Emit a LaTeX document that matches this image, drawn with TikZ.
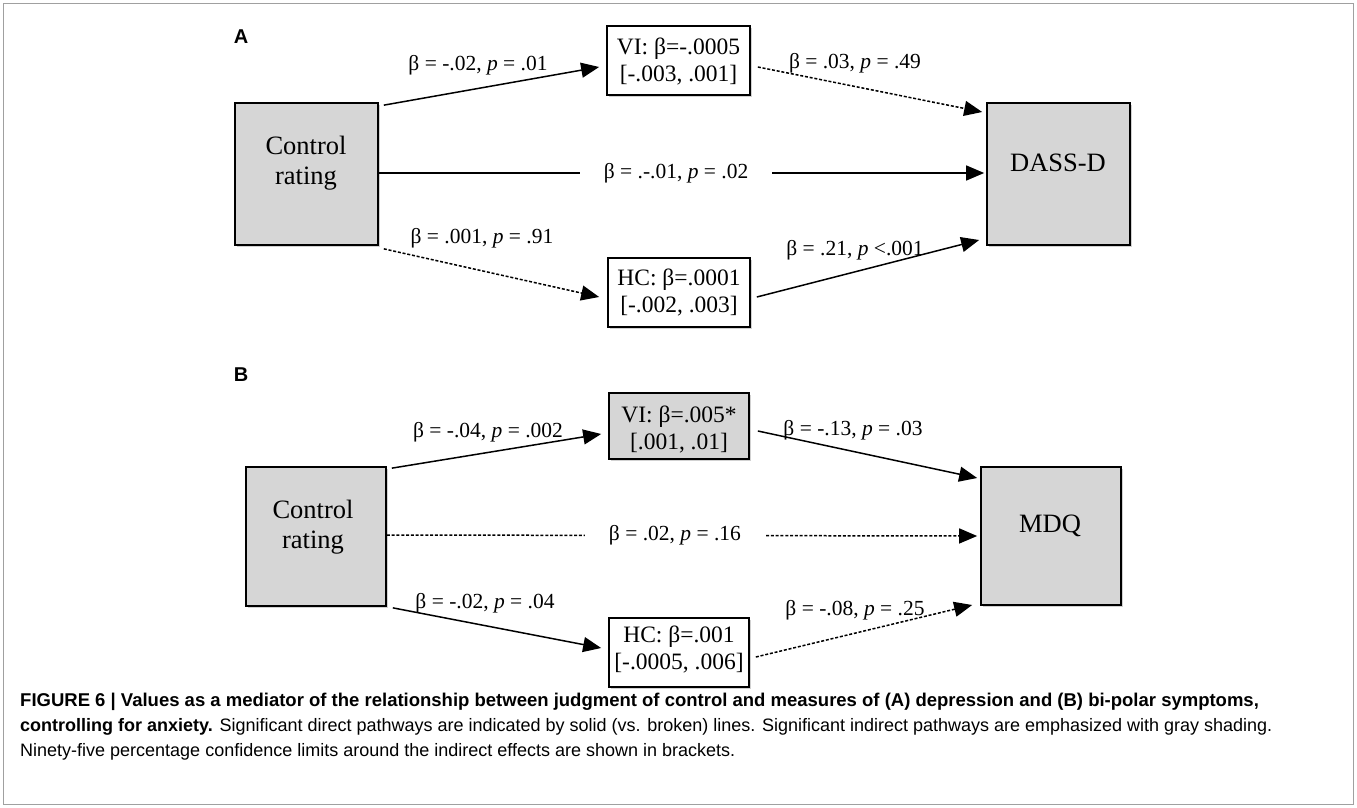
\documentclass[tikz,border=0pt]{standalone}
\usepackage{fontspec}
\usepackage{graphicx}
\setmainfont{Liberation Serif}
\newfontfamily\capfont{Liberation Sans}
\usetikzlibrary{arrows.meta,calc,shadows}
\definecolor{boxgray}{RGB}{214,214,214}
\definecolor{framegray}{RGB}{160,160,160}
\begin{document}
\begin{tikzpicture}[x=1pt,y=-1pt,
  shad/.style={drop shadow={shadow xshift=2pt,shadow yshift=-2pt,opacity=0.18,fill=black}},
  midbox/.style={draw=black, fill=white, line width=1.7pt, inner sep=0pt, shad},
  midtext/.style={align=center, inner sep=0pt, font=\fontsize{23.5}{27}\selectfont},
  bigbox/.style={draw=black, fill=boxgray, line width=1.7pt, inner sep=0pt, shad},
  bigtext/.style={align=center, inner sep=0pt, font=\fontsize{26.5}{30}\selectfont},
  lbl/.style={inner sep=0pt, font=\fontsize{21.5}{24}\selectfont},
  arr/.style={-{Triangle[length=18pt,width=15pt]}, line width=1.5pt},
  darr/.style={arr, dash pattern=on 3pt off 1.8pt},
  panel/.style={inner sep=0pt, font=\capfont\bfseries\fontsize{20}{22}\selectfont},
  captxt/.style={inner sep=0pt, anchor=base west, font=\capfont\fontsize{18}{20}\selectfont}
]
\useasboundingbox (0,0) rectangle (1357,808);
\draw[framegray, line width=1.2pt] (3.5,3.5) rectangle (1353.5,804.5);

% ---------------- Panel A ----------------
\node[panel] (pA) at (241,37) {A};
\node[bigbox, minimum width=143pt, minimum height=142pt] (ctrlA) at (306.5,174) {};
\node[bigtext] (ctrlAt) at (306,163) {Control\\rating};
\node[midbox, minimum width=143pt, minimum height=69pt] (viA) at (678.5,60.5) {};
\node[midtext] (viAt) at (678.5,61.5) {VI: β=-.0005\\{}[-.003, .001]};
\node[midbox, minimum width=142pt, minimum height=69pt] (hcA) at (679,292.5) {};
\node[midtext] (hcAt) at (679,292.5) {HC: β=.0001\\{}[-.002, .003]};
\node[bigbox, minimum width=143pt, minimum height=142pt] (dass) at (1058.5,174) {};
\node[bigtext] (dasst) at (1058,163) {DASS-D};

\draw[arr] ($(ctrlA.north east)+(5,3)$) -- ($(viA.west)+(-7,6.5)$);
\draw[darr] ($(viA.east)+(7,6.5)$) -- ($(dass.west)+(-4,-62)$);
\draw[arr] ($(ctrlA.east)+(0,-1)$) -- node[lbl, fill=white, inner xsep=24pt, pos=0.491] (lA3) {β = .-.01, \textit{p} = .02} ($(dass.west)+(-2,-1)$);
\draw[darr] ($(ctrlA.south east)+(5,3)$) -- ($(hcA.west)+(-8,4.5)$);
\draw[arr] ($(hcA.east)+(6,4.5)$) -- ($(dass.west)+(-7,66)$);

\node[lbl] (lA1) at (478,65) {β = -.02, \textit{p} = .01};
\node[lbl] (lA2) at (855,63) {β = .03, \textit{p} = .49};
\node[lbl] (lA4) at (482,238) {β = .001, \textit{p} = .91};
\node[lbl] (lA5) at (855,250) {β = .21, \textit{p} <.001};

% ---------------- Panel B ----------------
\node[panel] (pB) at (241,375) {B};
\node[bigbox, minimum width=140pt, minimum height=139pt] (ctrlB) at (316,536.5) {};
\node[bigtext] (ctrlBt) at (313,527) {Control\\rating};
\node[bigbox, minimum width=140pt, minimum height=66pt] (viB) at (679,426) {};
\node[midtext] (viBt) at (679,429.5) {VI: β=.005*\\{}[.001, .01]};
\node[midbox, minimum width=140pt, minimum height=69pt] (hcB) at (679,652.5) {};
\node[midtext] (hcBt) at (679,650) {HC: β=.001\\{}[-.0005, .006]};
\node[bigbox, minimum width=140pt, minimum height=138pt] (mdq) at (1051,536) {};
\node[bigtext] (mdqt) at (1050,526) {MDQ};

\draw[arr] ($(ctrlB.north east)+(5,2)$) -- ($(viB.west)+(-7,8)$);
\draw[arr] ($(viB.east)+(8,5)$) -- ($(mdq.west)+(-3,-58)$);
\draw[darr] ($(ctrlB.east)+(0,-1.5)$) -- node[lbl, fill=white, inner xsep=24pt, pos=0.488] (lB3) {β = .02, \textit{p} = .16} ($(mdq.west)+(-3,0)$);
\draw[arr] ($(ctrlB.south east)+(6,1)$) -- ($(hcB.west)+(-7,-4.5)$);
\draw[darr] ($(hcB.east)+(6,4.5)$) -- ($(mdq.west)+(-8,69)$);

\node[lbl] (lB1) at (488,432) {β = -.04, \textit{p} = .002};
\node[lbl] (lB2) at (853,430) {β = -.13, \textit{p} = .03};
\node[lbl] (lB4) at (485,603) {β = -.02, \textit{p} = .04};
\node[lbl] (lB5) at (855,610) {β = -.08, \textit{p} = .25};

% ---------------- Caption ----------------
\node[captxt] (c1) at (20,706) {\fontsize{18.5}{20}\selectfont\bfseries FIGURE 6 | Values as a mediator of the relationship between judgment of control and measures of (A) depression and (B) bi-polar symptoms,};
\node[captxt] (c2) at (20,731) {\textbf{controlling for anxiety.} Significant direct pathways are indicated by solid (vs. broken) lines. Significant indirect pathways are emphasized with gray shading.};
\node[captxt] (c3) at (20,756) {Ninety-five percentage confidence limits around the indirect effects are shown in brackets.};
\end{tikzpicture}
\end{document}
